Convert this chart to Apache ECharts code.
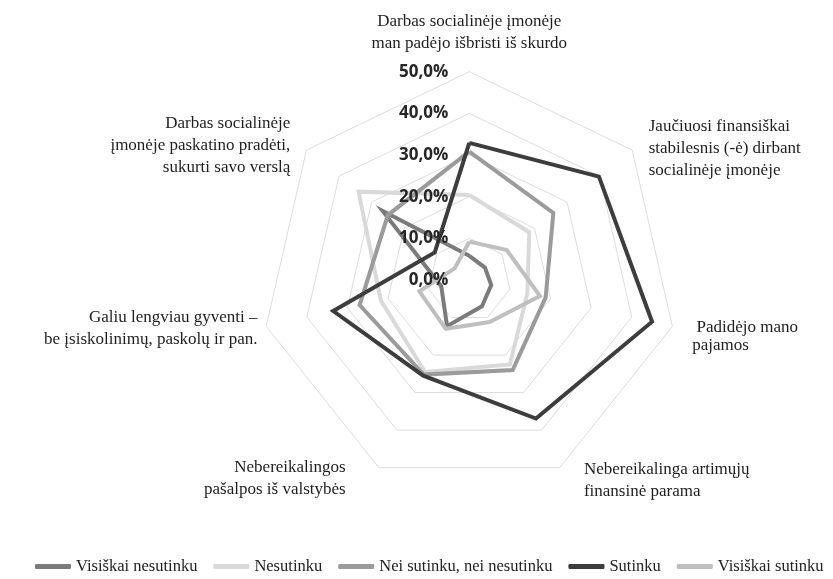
<!DOCTYPE html>
<html>
<head>
<meta charset="utf-8">
<script src="https://cdn.jsdelivr.net/npm/echarts@6/dist/echarts.min.js"></script>
<style>
html,body{margin:0;padding:0;background:#fff;}
#chart{width:833px;height:579px;}
</style>
</head>
<body>
<div id="chart"></div>
<script>
// Indicators listed clockwise starting from the top
const indicatorNames = [
  'Darbas socialinėje įmonėje\nman padėjo išbristi iš skurdo',
  'Jaučiuosi finansiškai\nstabilesnis (-ė) dirbant\nsocialinėje įmonėje',
  ' Padidėjo mano\npajamos',
  'Nebereikalinga artimųjų\nfinansinė parama',
  'Nebereikalingos\npašalpos iš valstybės',
  'Galiu lengviau gyventi –\nbe įsiskolinimų, paskolų ir pan.',
  'Darbas socialinėje\nįmonėje paskatino pradėti,\nsukurti savo verslą'
];
const seriesNames = ['Visiškai nesutinku', 'Nesutinku', 'Nei sutinku, nei nesutinku', 'Sutinku', 'Visiškai sutinku'];
const visiskaiNesutinku = [5.8, 4.8, 5.4, 7.0, 12.3, 6.9, 26.6];
const nesutinku = [20.4, 18.4, 14.3, 22.5, 24.5, 21.8, 34.0];
const neiSutinku = [30.8, 25.8, 18.8, 24.0, 25.2, 27.0, 25.0];
const sutinku = [32.9, 39.8, 45.0, 36.9, 25.5, 33.5, 10.6];
const visiskaiSutinku = [9.2, 11.5, 17.4, 11.2, 13.0, 12.3, 4.5];
const axisTicks = [0, 10, 20, 30, 40, 50];

const seriesValues = [visiskaiNesutinku, nesutinku, neiSutinku, sutinku, visiskaiSutinku];
const colors = ['#7b7b7b', '#d9d9d9', '#9b9b9b', '#3d3d3d', '#bfbfbf'];

// ECharts places radar indicators counter-clockwise; reorder to get clockwise
const order = [0, 6, 5, 4, 3, 2, 1];
// per-indicator name placement tweaks
const nameGaps = [17, 3.3, -33, 14.3, 12.1, 9, 6.6];
const namePads = [
  [0, 0, 0, 0],
  [0, 0, 0, 14],
  [0, 0, 0, 52],
  [0, 0, 0, 18],
  [0, 28, 0, 0],
  [0, 0, 0, 0],
  [0, 11, 0, 0]
];
const nameExtra = [{}, {}, { verticalAlign: 'top', lineHeight: 18 }, {}, {}, {}, {}];

const baseName = {
  color: '#1e1e1e',
  fontFamily: 'Liberation Serif',
  fontSize: 17,
  lineHeight: 22
};

const gridIndicator = order.map(i => ({
  name: indicatorNames[i],
  min: axisTicks[0],
  max: axisTicks[axisTicks.length - 1],
  nameGap: nameGaps[i],
  nameTextStyle: Object.assign({}, baseName, { padding: namePads[i] }, nameExtra[i])
}));
const labelIndicator = order.map((i, k) => {
  const o = { name: '', min: axisTicks[0], max: axisTicks[axisTicks.length - 1] };
  if (k === 0) o.axisLabel = { show: true };
  return o;
});

const center = [469.3, 280];
const radius = 208.3;

const chart = echarts.init(document.getElementById('chart'), null, { renderer: 'canvas' });
chart.setOption({
  animation: false,
  color: colors,
  legend: {
    data: seriesNames,
    left: 30,
    top: 553,
    width: 820,
    icon: 'roundRect',
    itemWidth: 36,
    itemHeight: 5,
    itemGap: 16,
    textStyle: { fontFamily: 'Liberation Serif', fontSize: 16.5, color: '#222' }
  },
  radar: [{
    center: center,
    radius: radius,
    startAngle: 90,
    splitNumber: axisTicks.length - 1,
    shape: 'polygon',
    z: 1,
    axisName: baseName,
    axisLine: { show: false },
    axisTick: { show: false },
    axisLabel: { show: false },
    splitLine: { show: true, lineStyle: { color: '#dcdcdc', width: 1 } },
    splitArea: { show: false },
    indicator: gridIndicator
  }, {
    center: center,
    radius: radius,
    startAngle: 90,
    splitNumber: axisTicks.length - 1,
    shape: 'polygon',
    z: 10,
    axisName: { show: false },
    axisLine: { show: false },
    axisTick: { show: false },
    splitLine: { show: false },
    splitArea: { show: false },
    axisLabel: {
      show: false,
      margin: 21,
      color: '#262626',
      fontFamily: 'Open Sans',
      fontWeight: 'bold',
      fontSize: 17,
      formatter: v => v.toFixed(1).replace('.', ',') + '%'
    },
    indicator: labelIndicator
  }],
  series: [{
    type: 'radar',
    radarIndex: 0,
    z: 2,
    symbol: 'none',
    data: seriesValues.map((arr, s) => ({
      name: seriesNames[s],
      value: order.map(i => arr[i]),
      lineStyle: { color: colors[s], width: 4, join: 'miter' },
      itemStyle: { color: colors[s] }
    }))
  }]
});
</script>
</body>
</html>
